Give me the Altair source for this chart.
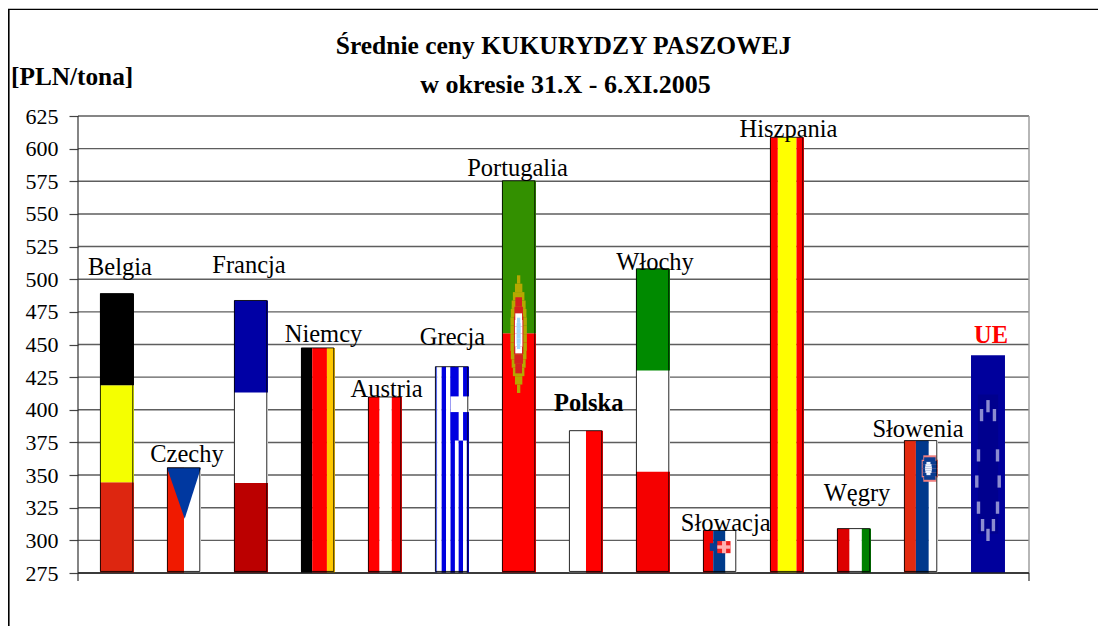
import altair as alt
import pandas as pd

# ---- data ----
countries = ["Belgia", "Czechy", "Francja", "Niemcy", "Austria", "Grecja", "Portugalia",
             "Polska", "Włochy", "Słowacja", "Hiszpania", "Węgry", "Słowenia", "UE"]
prices = [489, 355.6, 483.7, 447.4, 409.8, 433, 575.4, 384, 508, 307.6, 608.7, 309, 376.4, 441.8]
y_ticks = [275, 300, 325, 350, 375, 400, 425, 450, 475, 500, 525, 550, 575, 600, 625]
title_lines = ["Średnie ceny KUKURYDZY PASZOWEJ", "w okresie 31.X - 6.XI.2005"]
unit_label = "[PLN/tona]"

# ---- styling (flag artwork in bar-relative units: u across, v up) ----
W, H = 951, 457
PAD = dict(left=70, top=108, right=69, bottom=53)
SERIF = "Liberation Serif"
BAR_W = 0.507
X_DOMAIN = [-0.582, 13.612]
Y_DOMAIN = [275, 625]


def v_stripes(stops, colors):
    return [(stops[k], stops[k + 1], 0, 1, c) for k, c in enumerate(colors)]


def h_stripes(stops, colors):
    return [(0, 1, stops[k], stops[k + 1], c) for k, c in enumerate(colors)]


def oval(uc, vc, ru, rv, color, rows):
    """stepped oval, rows = half-widths (fractions of ru) from the middle outwards"""
    out = []
    n = len(rows)
    for k, f in enumerate(rows):
        v0, v1 = vc + rv * k / n, vc + rv * (k + 1) / n
        out.append((uc - ru * f, uc + ru * f, v0, v1, color))
        out.append((uc - ru * f, uc + ru * f, 2 * vc - v1, 2 * vc - v0, color))
    return out


BL = "#0000e0"
greek = v_stripes([0, .065, .196, .326, .457, .587, .696, .826, .935, 1],
                  ["#5a6cf0", "#ffffff", BL, "#ffffff", BL, "#ffffff", BL, "#ffffff", BL])
greek += [(.457, 1, .642, 1, BL), (.696, .826, .642, 1, "#ffffff"), (.457, 1, .78, .856, "#ffffff")]

portugal = h_stripes([0, .611, 1], ["#ff0000", "#339000"])
portugal += oval(.49, .609, .242, .15, "#b5a800", [1, 1, .95, .85, .7, .45, .2])
portugal += oval(.49, .606, .14, .097, "#d62020", [1, 1, .9, .7])
portugal += oval(.49, .611, .11, .051, "#ffffff", [1, 1, .9])
portugal += oval(.49, .611, .06, .04, "#a4d8ff", [1, 1, .8])

slovakia = v_stripes([0, .30, .66, 1], ["#f00000", "#003c8c", "#ffffff"])
slovakia += [(.20, .42, .52, .70, "#0a3c90"), (.42, .81, .466, .75, "#f02020"),
             (.56, .68, .466, .75, "#ffb0b0"), (.42, .81, .57, .65, "#ffb0b0")]

slovenia = v_stripes([0, .35, .73, 1], ["#e22a10", "#00388c", "#ffffff"])
slovenia += oval(.76, .789, .24, .10, "#f08080", [1, 1, .8])
slovenia += oval(.76, .789, .21, .085, "#0a3c90", [1, 1, .8])
slovenia += oval(.72, .789, .10, .05, "#f0f4ff", [1, .9, .6])

eu = [(0, 1, 0, 1, "#00009c"), (.2, .8, .18, .82, "#00008e")]
for su, sv in [(.50, .766), (.31, .725), (.69, .725), (.22, .54), (.78, .54), (.17, .42), (.83, .42),
               (.22, .30), (.78, .30), (.34, .22), (.66, .22), (.50, .175)]:
    eu.append((su - .05, su + .05, sv - .028, sv + .028, "#8c8cd0"))

FLAGS = {
    "Belgia": h_stripes([0, .325, .672, 1], ["#dd2610", "#f5ff00", "#000000"]),
    "Czechy": [(0, .5, 0, 1, "#f01a00"), (.5, 1, 0, 1, "#ffffff")],
    "Francja": h_stripes([0, .33, .662, 1], ["#bb0000", "#ffffff", "#0000a5"]),
    "Niemcy": v_stripes([0, .33, .763, 1], ["#000000", "#ff0000", "#ffc800"]),
    "Austria": v_stripes([0, .34, .70, 1], ["#ff0000", "#ffffff", "#ff0000"]),
    "Grecja": greek,
    "Portugalia": portugal,
    "Polska": v_stripes([0, .5, 1], ["#ffffff", "#ff0000"]),
    "Włochy": h_stripes([0, .334, .666, 1], ["#f50000", "#ffffff", "#008a00"]),
    "Słowacja": slovakia,
    "Hiszpania": v_stripes([0, .23, .78, 1], ["#ff0000", "#ffff00", "#ff0000"]),
    "Węgry": v_stripes([0, .37, .73, 1], ["#dd0000", "#ffffff", "#008000"]),
    "Słowenia": slovenia,
    "UE": eu,
}
NO_FRAME = {"UE"}
# label placement relative to the top centre of each bar (px)
LABEL_OFFSET = [(3, -19), (3, -5.6), (-2, -27.6), (5.5, -6), (1.5, .3), (.5, -21.3), (-1.5, -4.7),
                (2.7, -19.6), (2, 1.7), (5.7, .7), (1.5, -.6), (3, -27.6), (-3, -3.6), (3, -12.3)]
LABEL_STYLE = {"Polska": dict(fontWeight="bold"), "UE": dict(fontWeight="bold", color="#ff0000")}

# ---- tables ----
rects = []
frames = []
for i, (name, price) in enumerate(zip(countries, prices)):
    x0 = i - BAR_W / 2
    for order, (u0, u1, v0, v1, col) in enumerate(FLAGS[name]):
        rects.append(dict(name=name, order=order, x=x0 + u0 * BAR_W, x2=x0 + u1 * BAR_W,
                          y=275 + v0 * (price - 275), y2=275 + v1 * (price - 275), col=col))
    if name not in NO_FRAME:
        frames.append(dict(x=x0 + .012 * BAR_W, x2=x0 + .965 * BAR_W, y=276.2, y2=price))

rect_df = pd.DataFrame(rects)
frame_df = pd.DataFrame(frames)

cz = countries.index("Czechy")
cz_x0 = cz - BAR_W / 2
cz_top = prices[cz]
tri_df = pd.DataFrame([
    dict(x=cz_x0, y=cz_top, y2=cz_top),
    dict(x=cz_x0 + .52 * BAR_W, y=275 + .515 * (cz_top - 275), y2=cz_top),
    dict(x=cz_x0 + BAR_W, y=cz_top, y2=cz_top),
])

x_scale = alt.Scale(domain=X_DOMAIN, nice=False, zero=False)
y_scale = alt.Scale(domain=Y_DOMAIN, nice=False, zero=False)
y_axis = alt.Axis(
    values=y_ticks, title=None, domain=False, grid=False, ticks=True, tickSize=9,
    tickColor="#444444", tickWidth=1.2, labelFont=SERIF, labelFontSize=22, labelColor="#000000",
    labelPadding=11, labelBaseline="middle", labelFontWeight="normal")
X = alt.X("x:Q", scale=x_scale, axis=None)
Y = alt.Y("y:Q", scale=y_scale, axis=y_axis, title=None)

grid = alt.Chart(pd.DataFrame({"y": y_ticks})).mark_rule(color="#5e5e5e", strokeWidth=1.4).encode(
    y=Y, x=alt.value(0), x2=alt.value(W))

left_axis = alt.Chart(pd.DataFrame({"a": [0]})).mark_rule(color="#333333", strokeWidth=1.2).encode(
    x=alt.value(0), y=alt.value(0), y2=alt.value(H + 8))
right_axis = alt.Chart(pd.DataFrame({"a": [0]})).mark_rule(color="#999999", strokeWidth=1.4).encode(
    x=alt.value(W), y=alt.value(0), y2=alt.value(H))
right_tick = alt.Chart(pd.DataFrame({"a": [0]})).mark_rule(color="#333333", strokeWidth=1.2).encode(
    x=alt.value(W), y=alt.value(H), y2=alt.value(H + 8))
base = alt.Chart(pd.DataFrame({"a": [0]})).mark_rule(color="#222222", strokeWidth=1.4).encode(
    x=alt.value(0), x2=alt.value(W), y=alt.value(H))

flags = alt.Chart(rect_df).mark_rect(strokeWidth=0).encode(
    x=X, x2="x2:Q", y=Y, y2="y2:Q", color=alt.Color("col:N", scale=None), order="order:Q")
triangle = alt.Chart(tri_df).mark_area(color="#0038a0", line=False).encode(x=X, y=Y, y2="y2:Q")
frame = alt.Chart(frame_df).mark_rect(fillOpacity=0, stroke="#000000", strokeWidth=1, strokeOpacity=.85).encode(
    x=X, x2="x2:Q", y=Y, y2="y2:Q")

labels = []
for i, (name, price) in enumerate(zip(countries, prices)):
    dx, dy = LABEL_OFFSET[i]
    style = dict(color="#000000", fontWeight="normal")
    style.update(LABEL_STYLE.get(name, {}))
    labels.append(alt.Chart(pd.DataFrame([dict(x=i, y=price, t=name)])).mark_text(
        font=SERIF, fontSize=24.5, align="center", baseline="alphabetic", dx=dx, dy=dy, **style
    ).encode(x=X, y=Y, text="t:N"))


def fixed_text(text, px, py, size, **kw):
    return alt.Chart(pd.DataFrame([dict(t=text)])).mark_text(
        font=SERIF, fontSize=size, fontWeight="bold", baseline="alphabetic", color="#000000", **kw
    ).encode(x=alt.value(px), y=alt.value(py), text="t:N")


title1 = fixed_text(title_lines[0], 563.5 - 78, 54 - 116, 25.5, align="center")
title2 = fixed_text(title_lines[1], 565.5 - 78, 93 - 116, 26, align="center")
unit = fixed_text(unit_label, 11 - 78, 85 - 116, 25.3, align="left")

frame_top = alt.Chart(pd.DataFrame({"a": [0]})).mark_rule(color="#000000", strokeWidth=1.2).encode(
    x=alt.value(-PAD["left"]), x2=alt.value(W + PAD["right"]), y=alt.value(9.3 - 116))
frame_left = alt.Chart(pd.DataFrame({"a": [0]})).mark_rule(color="#000000", strokeWidth=1.6).encode(
    x=alt.value(-PAD["left"] + .8), y=alt.value(9.3 - 116), y2=alt.value(H + PAD["bottom"]))

chart = alt.layer(
    grid, left_axis, right_axis, right_tick, flags, triangle, frame, base,
    *labels, title1, title2, unit, frame_top, frame_left,
).properties(
    width=W, height=H,
    padding=PAD,
    autosize=alt.AutoSizeParams(type="none"),
    background="#ffffff",
).configure_view(stroke=None).resolve_scale(color="independent")

chart.save("out.html", embed_options={"renderer": "svg", "actions": False})
